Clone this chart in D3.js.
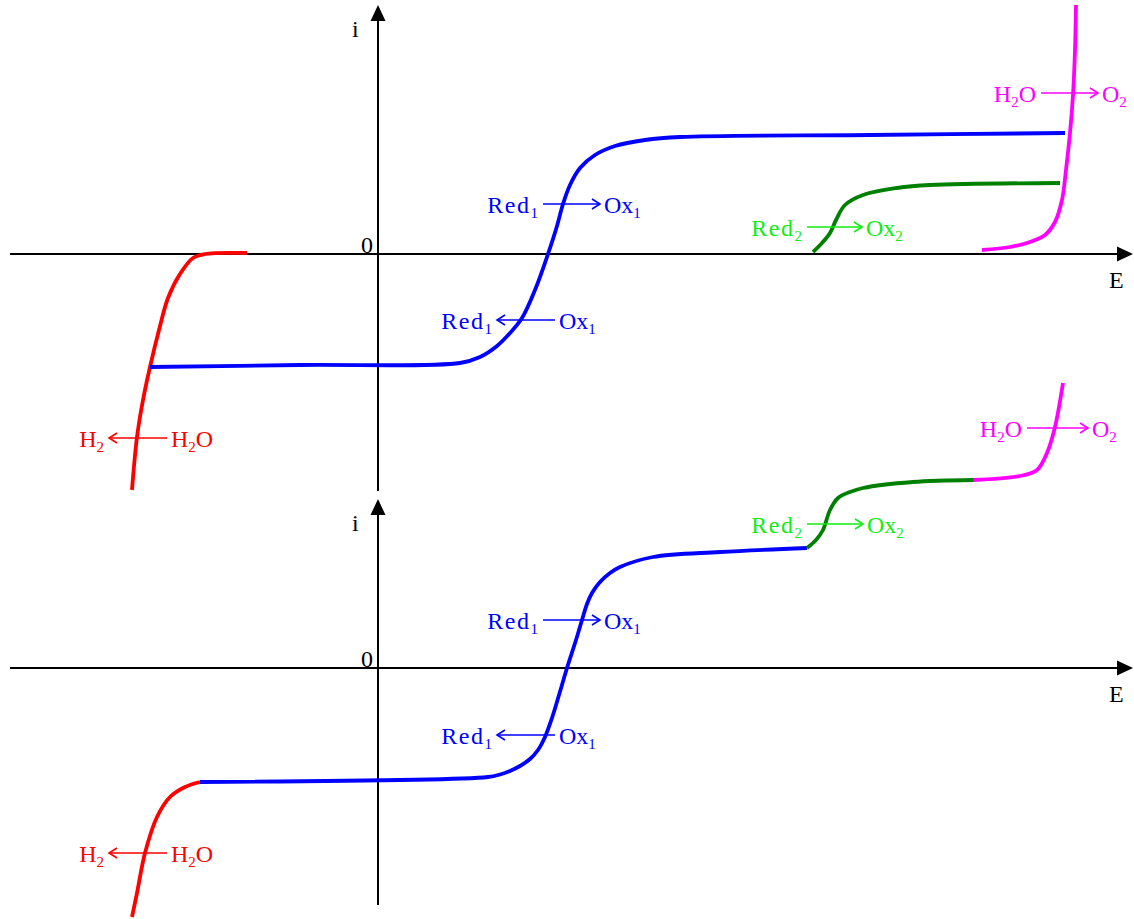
<!DOCTYPE html>
<html>
<head>
<meta charset="utf-8">
<script src="https://cdn.jsdelivr.net/npm/d3@7"></script>
<style>
  html, body { margin: 0; padding: 0; background: #fff; }
  svg { display: block; }
  text { font-family: "Liberation Serif", "Times New Roman", serif; }
</style>
</head>
<body>
<svg id="chart" width="1134" height="919"></svg>
<script>
// ---- Potential (E) and current (i) ranges, arbitrary units ----
const eDomain = [-3.68, 7.55];
const topIDomain = [-2.37, 2.49];
const bottomIDomain = [-2.37, 1.69];

// ---- Upper panel: i = f(E) curves, [E, i] ----
const topWaterReduction = [
  [-2.46, -2.36], [-2.41, -1.83], [-2.35, -1.46], [-2.28, -1.13], [-2.19, -0.76],
  [-2.10, -0.44], [-1.98, -0.20], [-1.85, -0.04], [-1.73, 0.00], [-1.31, 0.01]
];
const topCouple1 = [
  [-2.28, -1.13], [-0.78, -1.11], [0.82, -1.09], [1.02, -1.03], [1.19, -0.92],
  [1.32, -0.79], [1.44, -0.64], [1.57, -0.36], [1.70, 0.00], [1.79, 0.28],
  [1.85, 0.50], [1.92, 0.69], [2.02, 0.86], [2.17, 0.99], [2.37, 1.08],
  [2.67, 1.14], [3.02, 1.17], [4.92, 1.19], [6.87, 1.21]
];
const topCouple2 = [
  [4.35, 0.02], [4.44, 0.11], [4.52, 0.21], [4.58, 0.34], [4.67, 0.49],
  [4.85, 0.59], [5.19, 0.66], [5.52, 0.69], [6.82, 0.71]
];
const topWaterOxidation = [
  [6.04, 0.04], [6.32, 0.07], [6.52, 0.12], [6.67, 0.19], [6.77, 0.32],
  [6.84, 0.54], [6.88, 0.84], [6.92, 1.21], [6.95, 1.59], [6.97, 2.04], [6.98, 2.49]
];

// ---- Lower panel: successive waves, [E, i] ----
const bottomWaterReduction = [
  [-2.46, -2.49], [-2.41, -2.25], [-2.33, -1.85], [-2.21, -1.49],
  [-2.08, -1.29], [-1.93, -1.19], [-1.78, -1.14]
];
const bottomCouple1 = [
  [-1.78, -1.14], [1.10, -1.09], [1.22, -1.065], [1.32, -1.03], [1.42, -0.98],
  [1.52, -0.91], [1.60, -0.82], [1.67, -0.69], [1.74, -0.50], [1.81, -0.27],
  [1.89, 0.00], [1.98, 0.28], [2.04, 0.48], [2.09, 0.64], [2.14, 0.75],
  [2.22, 0.86], [2.32, 0.95], [2.42, 1.01], [2.75, 1.11], [3.42, 1.16], [4.29, 1.20]
];
const bottomCouple2 = [
  [4.29, 1.20], [4.38, 1.28], [4.45, 1.38], [4.52, 1.58], [4.60, 1.70],
  [4.72, 1.76], [4.85, 1.80], [5.35, 1.86], [5.95, 1.88]
];
const bottomWaterOxidation = [
  [5.95, 1.88], [6.42, 1.92], [6.59, 1.98], [6.69, 2.15], [6.77, 2.41], [6.85, 2.85]
];

// ---- Reaction labels: species ("_" marks a subscript) ----
const reactionLeft  = ["Red_1", "Red_1", "Red_2", "H_2O", "H_2"];
const reactionRight = ["Ox_1",  "Ox_1",  "Ox_2",  "O_2",  "H_2O"];
const reactionDir   = ["right", "left",  "right", "right", "left"];
// arrow span [E start, E end] and height i for each panel
const topArrows = [
  [1.65, 2.22, 0.50], [1.19, 1.77, -0.66], [4.29, 4.84, 0.27],
  [6.63, 7.20, 1.61], [-2.69, -2.11, -1.84]
];
const bottomArrows = [
  [1.65, 2.22, 0.48], [1.19, 1.77, -0.67], [4.29, 4.85, 1.44],
  [6.49, 7.10, 2.40], [-2.69, -2.11, -1.85]
];

// ---- Styling ----
const curveColors = { water1: "#ff0000", c1: "#0000ff", c2: "#008000", water2: "#ff00ff" };
const labelColors = ["#0000ff", "#0000ff", "#11ee11", "#ff00ff", "#ff0000"];

const svg = d3.select("#chart");
const x = d3.scaleLinear().domain(eDomain).range([10, 1133]);
const yTop = d3.scaleLinear().domain(topIDomain).range([491, 5]);
const yBottom = d3.scaleLinear().domain(bottomIDomain).range([905, 499]);

function drawAxes(y) {
  const g = svg.append("g");
  const x0 = x(0), y0 = y(0);
  const [xMin, xMax] = x.range();
  const [yMin, yMax] = y.range(); // yMin is the lower end (larger px)
  g.append("line").attr("x1", xMin).attr("x2", xMax - 14).attr("y1", y0).attr("y2", y0)
    .attr("stroke", "#000").attr("stroke-width", 2);
  g.append("path")
    .attr("d", `M${xMax},${y0} L${xMax - 16},${y0 - 7.5} L${xMax - 16},${y0 + 7.5} Z`)
    .attr("fill", "#000");
  g.append("line").attr("x1", x0).attr("x2", x0).attr("y1", yMin).attr("y2", yMax + 14)
    .attr("stroke", "#000").attr("stroke-width", 2);
  g.append("path")
    .attr("d", `M${x0},${yMax} L${x0 - 7.5},${yMax + 16} L${x0 + 7.5},${yMax + 16} Z`)
    .attr("fill", "#000");
  g.append("text").attr("x", x0 - 5).attr("y", y0 - 1).attr("text-anchor", "end")
    .attr("font-size", 24).text("0");
  g.append("text").attr("x", x0 - 26).attr("y", yMax + 32).attr("font-size", 24).text("i");
  g.append("text").attr("x", xMax - 24).attr("y", y0 + 34).attr("font-size", 24).text("E");
}

const line = (y) => d3.line()
  .x(d => x(d[0])).y(d => y(d[1]))
  .curve(d3.curveCatmullRom.alpha(0.5));

function drawCurve(data, y, color) {
  svg.append("path").datum(data)
    .attr("d", line(y))
    .attr("fill", "none")
    .attr("stroke", color)
    .attr("stroke-width", 3.8)
    .attr("stroke-linecap", "butt")
    .attr("stroke-linejoin", "round");
}

function species(textSel, s) {
  const parts = s.split(/(_.)/).filter(p => p.length);
  let shifted = false;
  parts.forEach(p => {
    if (p[0] === "_") {
      textSel.append("tspan").attr("font-size", 15).attr("dy", 5).text(p[1]);
      shifted = true;
    } else {
      const t = textSel.append("tspan").text(p);
      if (shifted) { t.attr("dy", -5); shifted = false; }
      if (p === "Red") t.attr("letter-spacing", 1.5);
    }
  });
}

function drawReactions(arrows, y) {
  arrows.forEach((a, k) => {
    const color = labelColors[k];
    const xa = x(a[0]), xb = x(a[1]), ya = y(a[2]);
    const g = svg.append("g");
    g.append("line").attr("x1", xa).attr("x2", xb).attr("y1", ya).attr("y2", ya)
      .attr("stroke", color).attr("stroke-width", 1.4);
    const tip = reactionDir[k] === "right" ? xb : xa;
    const back = reactionDir[k] === "right" ? -8 : 8;
    g.append("path")
      .attr("d", `M${tip + back},${ya - 5} L${tip},${ya} L${tip + back},${ya + 5}`)
      .attr("fill", "none").attr("stroke", color).attr("stroke-width", 1.6);
    const tl = g.append("text").attr("x", xa - 5).attr("y", ya + 9)
      .attr("text-anchor", "end").attr("font-size", 24).attr("fill", color);
    species(tl, reactionLeft[k]);
    const tr = g.append("text").attr("x", xb + 4).attr("y", ya + 9)
      .attr("font-size", 24).attr("fill", color);
    species(tr, reactionRight[k]);
  });
}

// Upper panel
drawAxes(yTop);
drawCurve(topWaterReduction, yTop, curveColors.water1);
drawCurve(topCouple1, yTop, curveColors.c1);
drawCurve(topCouple2, yTop, curveColors.c2);
drawCurve(topWaterOxidation, yTop, curveColors.water2);
drawReactions(topArrows, yTop);

// Lower panel
drawAxes(yBottom);
drawCurve(bottomWaterReduction, yBottom, curveColors.water1);
drawCurve(bottomCouple1, yBottom, curveColors.c1);
drawCurve(bottomCouple2, yBottom, curveColors.c2);
drawCurve(bottomWaterOxidation, yBottom, curveColors.water2);
drawReactions(bottomArrows, yBottom);
</script>
</body>
</html>
